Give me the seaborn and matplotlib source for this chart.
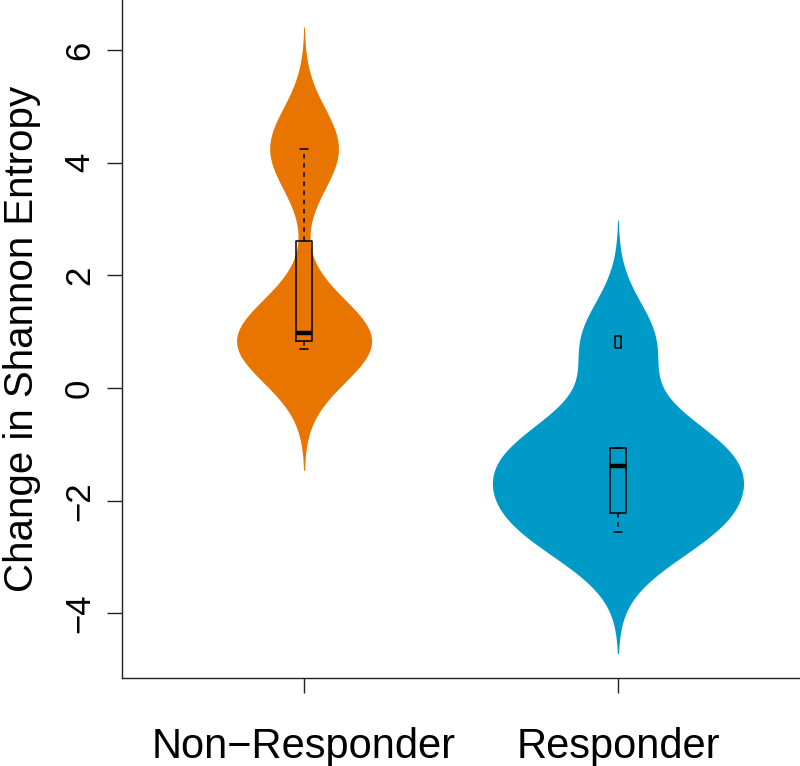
import pandas as pd
import seaborn as sns
import matplotlib.pyplot as plt

sns.set_theme(style="ticks")
plt.rcParams["font.family"] = ["Liberation Sans", "DejaVu Sans"]
plt.rcParams["text.color"] = "black"
plt.rcParams["axes.labelcolor"] = "black"

# Values
groups = ["Non\u2212Responder", "Responder"]
non_responder = [0.70, 0.97, 4.25]
responder = [-2.55, -2.39, -1.70, -1.06, -1.06, 0.82]
colors = ["#E87500", "#009AC8"]
violin_widths = [0.43, 0.80]
bandwidth = 0.72

df = pd.DataFrame({
    "group": [groups[0]] * len(non_responder) + [groups[1]] * len(responder),
    "value": non_responder + responder,
})


# Same kernel bandwidth (in data units) for both groups
def fixed_bw(kde):
    return bandwidth / kde.dataset.std(ddof=1)


fig = plt.figure(figsize=(8, 7.66), dpi=100)
ax = fig.add_axes([122 / 800, 88 / 766, 678 / 800, 678 / 766])

# Violins, one call per group so each gets its own width
for g, c, w in zip(groups, colors, violin_widths):
    sns.violinplot(
        data=df[df["group"] == g],
        x="group",
        y="value",
        order=groups,
        color=c,
        saturation=1,
        inner=None,
        linewidth=0,
        cut=3,
        bw_method=fixed_bw,
        density_norm="width",
        width=w,
        gridsize=400,
        ax=ax
    )

# Boxplot overlay
rect_marker = [(-0.5, -1), (0.5, -1), (0.5, 1), (-0.5, 1), (-0.5, -1)]

sns.boxplot(
    data=df,
    x="group",
    y="value",
    order=groups,
    width=0.051,
    fill=False,
    color="black",
    linewidth=1.1,
    whis=1.5,
    fliersize=8.5,
    whiskerprops={"linestyle": (0, (3, 3))},
    medianprops={"linewidth": 3.2},
    flierprops={"marker": rect_marker, "markersize": 8.5,
                "markerfacecolor": "none", "markeredgecolor": "black",
                "markeredgewidth": 1.1},
    ax=ax
)

ax.set_xlim(-0.58, 1.58)
ax.set_ylim(-5.146, 6.886)
ax.set_yticks([-4, -2, 0, 2, 4, 6])

sns.despine(ax=ax)
for side in ["left", "bottom"]:
    ax.spines[side].set_color("#222222")
    ax.spines[side].set_linewidth(1.0)

ax.tick_params(axis="both", direction="out", length=10.8, width=1.0,
               color="#222222", labelcolor="black")
ax.tick_params(axis="y", labelsize=25, pad=8, labelrotation=90)
ax.tick_params(axis="x", labelsize=30, pad=24.3)
for lbl in ax.get_yticklabels():
    lbl.set_va("center")

ax.set_xlabel("")
ax.set_ylabel("Change in Shannon Entropy", fontsize=29, color="black")
ax.yaxis.set_label_coords(-0.1202, 0.5)

plt.savefig("out.png", dpi=100)
